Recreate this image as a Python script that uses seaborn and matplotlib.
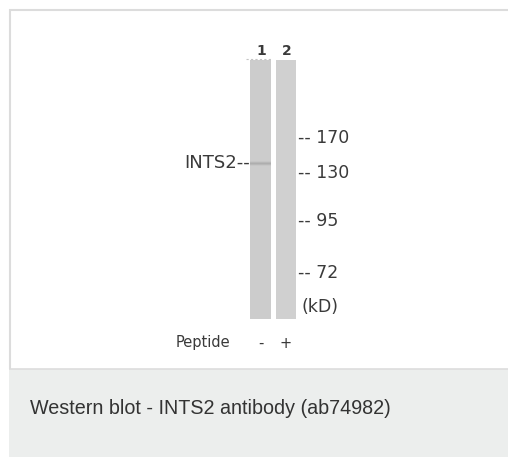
import numpy as np
import matplotlib
matplotlib.use("Agg")
import matplotlib.pyplot as plt
from matplotlib.patches import Rectangle
import seaborn as sns

# lanes and treatment
lane_labels = ["1", "2"]
peptide_signs = ["-", "+"]
lane_gray = [204, 208]          # background grey level of each lane (0-255)

# molecular weight markers (kD) and their migration (px from the top of the lanes)
marker_kd = [170, 130, 95, 72]
marker_mig = [78, 113, 161, 213]

# detected band: lane index, migration, darkening profile across rows
band_lane = 0
band_label = "INTS2"
band_mig = 103
band_profile = [-6, -20, -30, -20, -6]

caption = "Western blot - INTS2 antibody (ab74982)"

sns.set_theme(style="white")
plt.rcParams["font.family"] = ["Liberation Sans", "DejaVu Sans"]

W, H = 508, 457
fig = plt.figure(figsize=(W / 100, H / 100), dpi=100)
fig.patch.set_facecolor("white")


def box(x0, y0, x1, y1):
    return [x0 / W, 1 - y1 / H, (x1 - x0) / W, (y1 - y0) / H]


# page frame + grey caption strip
bg = fig.add_axes([0, 0, 1, 1])
bg.set_xlim(0, W)
bg.set_ylim(H, 0)
bg.axis("off")
bg.add_patch(Rectangle((9, 369), W - 9, H - 369, color="#eceeed", lw=0))
bg.plot([9, W], [10, 10], color="#dcdcdc", lw=1.5, solid_capstyle="butt")
bg.plot([10, 10], [9, 369], color="#dcdcdc", lw=1.5, solid_capstyle="butt")
bg.plot([9, W], [368.5, 368.5], color="#dddddd", lw=1.2, solid_capstyle="butt")
bg.text(30, 408, caption, fontsize=14.2, color="#333333", va="center", ha="left")

# blot lanes drawn as a heatmap, one cell per pixel
lane_w = [21, 20]
gap = 5
rows = 259
cols = lane_w[0] + gap + lane_w[1]
img = np.full((rows, cols), np.nan)
starts = [0, lane_w[0] + gap]
for i in range(2):
    img[:, starts[i]:starts[i] + lane_w[i]] = lane_gray[i]
for k, d in enumerate(band_profile):
    r = band_mig - len(band_profile) // 2 + k
    c0 = starts[band_lane]
    img[r, c0:c0 + lane_w[band_lane]] += d

ax = fig.add_axes(box(250, 60, 250 + cols, 60 + rows))
sns.heatmap(img, ax=ax, cmap="gray", vmin=0, vmax=255, cbar=False,
            xticklabels=False, yticklabels=False, mask=np.isnan(img))
ax.set_facecolor("white")

# the blot's own labels are wide (stretched scan), DejaVu Sans fits them better
txt = dict(color="#3a3a3a", clip_on=False, family=["DejaVu Sans"])
# lane numbers
for i, lab in enumerate(lane_labels):
    ax.text(starts[i] + lane_w[i] / 2 + 0.5, -9, lab, fontsize=10, fontweight="bold",
            ha="center", va="center", **txt)
ax.plot([-4, lane_w[0] + 1], [-1.5, -1.5], color="#c4c4c4", lw=0.8, ls=(0, (2, 2)), clip_on=False)

# band label
ax.text(0, band_mig, band_label + "--", fontsize=13, ha="right", va="center", **txt)

# markers
for kd, m in zip(marker_kd, marker_mig):
    ax.text(cols + 2, m, "-- " + str(kd), fontsize=12.5, ha="left", va="center", **txt)
ax.text(cols + 5, 247, "(kD)", fontsize=12.5, ha="left", va="center", **txt)

# peptide row
ax.text(-74, 283, "Peptide", fontsize=10.5, ha="left", va="center", **txt)
for i, s in enumerate(peptide_signs):
    ax.text(starts[i] + lane_w[i] / 2, 283, s, fontsize=10.5, ha="center", va="center", **txt)

fig.savefig("out.png", dpi=100)
